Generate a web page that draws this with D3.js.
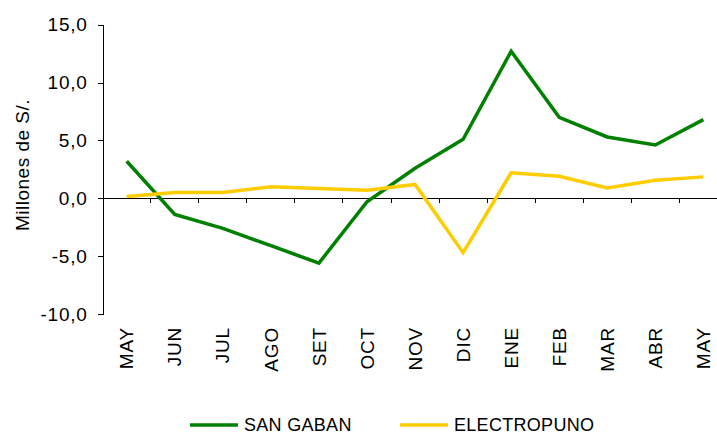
<!DOCTYPE html>
<meta charset="utf-8">
<style>
body { margin: 0; background: #fff; }
text { font-family: "Liberation Sans", Arial, sans-serif; fill: #000; }
.line { fill: none; stroke-width: 3.5px; stroke-linejoin: miter; }
.axis path, .axis line { stroke: #000; shape-rendering: crispEdges; }
</style>
<body>
<script src="https://d3js.org/d3.v7.min.js"></script>
<script>

// data
var months = ["MAY", "JUN", "JUL", "AGO", "SET", "OCT", "NOV", "DIC", "ENE", "FEB", "MAR", "ABR", "MAY"];
var sanGaban = [3.2, -1.4, -2.6, -4.1, -5.6, -0.3, 2.6, 5.1, 12.7, 7.0, 5.3, 4.6, 6.8];
var electroPuno = [0.15, 0.5, 0.5, 1.0, 0.85, 0.7, 1.2, -4.7, 2.2, 1.9, 0.9, 1.55, 1.85];
var yTicks = [-10, -5, 0, 5, 10, 15];
var seriesNames = ["SAN GABAN", "ELECTROPUNO"];
var seriesColors = ["#008000", "#ffcc00"];

var width = 717, height = 436;

var svg = d3.select("body").append("svg")
    .attr("width", width)
    .attr("height", height);

// scales
var x = d3.scaleBand()
    .domain(d3.range(months.length))
    .range([102.7, 727.4])
    .padding(0);
var y = d3.scaleLinear().domain([-10, 15]).range([314, 24.7]);

// comma decimals, plain hyphen for minus
var fmt = function(d) { return d3.format(".1f")(d).replace(".", ",").replace("\u2212", "-"); };

// y axis
svg.append("g")
    .attr("class", "axis")
    .attr("transform", "translate(" + x.range()[0] + ",0)")
    .call(d3.axisLeft(y).tickValues(yTicks).tickSize(5).tickSizeOuter(0).tickPadding(10).tickFormat(fmt))
    .call(function(g) {
      g.selectAll("text")
        .style("font-size", "19px")
        .style("letter-spacing", "0.8px")
        .style("font-family", null);
    });

// x axis at zero, ticks between categories
var xg = svg.append("g")
    .attr("class", "axis")
    .attr("transform", "translate(0," + y(0) + ")");
xg.append("line")
    .attr("x1", x.range()[0]).attr("x2", x.range()[1])
    .attr("y1", 0).attr("y2", 0);
xg.selectAll(".tk")
    .data(d3.range(1, months.length))
    .enter().append("line")
    .attr("class", "tk")
    .attr("x1", function(i) { return x(i); })
    .attr("x2", function(i) { return x(i); })
    .attr("y1", 0).attr("y2", 5);

// month labels below plot
svg.selectAll(".mlabel")
    .data(months)
    .enter().append("text")
    .attr("class", "mlabel")
    .attr("transform", function(d, i) {
      return "translate(" + (x(i) + x.bandwidth() / 2) + ",327) rotate(-90)";
    })
    .attr("dy", "0.35em")
    .style("text-anchor", "end")
    .style("font-size", "19px")
    .style("letter-spacing", "0.8px")
    .text(function(d) { return d; });

// y axis title
svg.append("text")
    .attr("transform", "translate(29,165) rotate(-90)")
    .style("text-anchor", "middle")
    .style("font-size", "19px")
    .style("letter-spacing", "0.5px")
    .text("Millones de S/.");

// lines
var valueline = d3.line()
    .x(function(d, i) { return x(i) + x.bandwidth() / 2; })
    .y(function(d) { return y(d); });

[sanGaban, electroPuno].forEach(function(s, k) {
  svg.append("path")
      .datum(s)
      .attr("class", "line")
      .style("stroke", seriesColors[k])
      .attr("d", valueline);
});

// legend
var legendX = [190, 400];
seriesNames.forEach(function(name, k) {
  svg.append("line")
      .attr("x1", legendX[k]).attr("x2", legendX[k] + 48)
      .attr("y1", 425).attr("y2", 425)
      .style("stroke", seriesColors[k])
      .style("stroke-width", 3.5);
  svg.append("text")
      .attr("x", legendX[k] + 54)
      .attr("y", 431)
      .style("font-size", "18px")
      .style("letter-spacing", "0.3px")
      .text(name);
});

</script>
</body>
